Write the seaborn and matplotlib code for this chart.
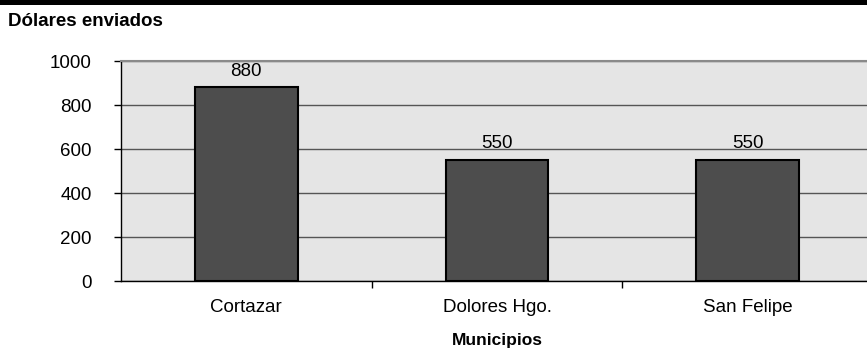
import matplotlib
matplotlib.use("Agg")
import matplotlib.pyplot as plt
from matplotlib.patches import Rectangle
import seaborn as sns
import pandas as pd

municipios = ["Cortazar", "Dolores Hgo.", "San Felipe"]
dolares = [880, 550, 550]
yticks = [0, 200, 400, 600, 800, 1000]

sns.set_style("white")
plt.rcParams["font.family"] = ["Liberation Sans", "DejaVu Sans"]
plt.rcParams["text.color"] = "black"
plt.rcParams["xtick.color"] = "black"
plt.rcParams["ytick.color"] = "black"
plt.rcParams["axes.labelcolor"] = "black"

W, H = 867, 349
fig = plt.figure(figsize=(W / 100, H / 100), dpi=100)

# plot area in pixel coordinates (right edge runs past the figure)
left, right, top, bottom = 121, 873, 61, 281
ax = fig.add_axes([left / W, 1 - bottom / H, (right - left) / W, (bottom - top) / H])

df = pd.DataFrame({"Municipio": municipios, "Dolares": dolares})
sns.barplot(data=df, x="Municipio", y="Dolares", ax=ax, color="#4d4d4d",
            edgecolor="black", linewidth=1.5, width=0.41, saturation=1, zorder=3)

ax.set_facecolor("#e5e5e5")
ax.set_xlim(-0.5, 2.5)
ax.set_ylim(0, 1000)
ax.set_yticks(yticks)
ax.set_yticklabels([str(v) for v in yticks], fontsize=13.5)
ax.yaxis.grid(True, color="#555555", linewidth=1.0, zorder=1)
ax.set_axisbelow(True)

ax.spines["right"].set_visible(False)
ax.spines["top"].set_color("#8a8a8a")
ax.spines["top"].set_linewidth(1.5)
ax.spines["left"].set_color("black")
ax.spines["left"].set_linewidth(1.0)
ax.spines["bottom"].set_color("black")
ax.spines["bottom"].set_linewidth(1.0)

ax.tick_params(axis="y", which="major", direction="out", length=5, width=1,
               color="black", left=True, pad=16)
ax.set_xticks(range(len(municipios)))
ax.set_xticklabels(municipios, fontsize=13.5)
ax.tick_params(axis="x", which="major", length=0, pad=13)
ax.set_xticks([0.5, 1.5], minor=True)
ax.tick_params(axis="x", which="minor", direction="out", length=5, width=1,
               color="black", bottom=True)

ax.set_xlabel("Municipios", fontsize=12.5, fontweight="bold", labelpad=12)
ax.set_ylabel("")

for i, v in enumerate(dolares):
    ax.annotate(str(v), (i, v), xytext=(0, 5.5), textcoords="offset points",
                ha="center", va="bottom", fontsize=13.5, zorder=5)

# black band across the top and chart title
fig.patches.append(Rectangle((0, 1 - 5 / H), 1, 5 / H, transform=fig.transFigure,
                             facecolor="black", edgecolor="none"))
fig.text(8 / W, 1 - 21 / H, "Dólares enviados", fontsize=13.5, fontweight="bold",
         ha="left", va="center")

fig.savefig("out.png", dpi=100)
